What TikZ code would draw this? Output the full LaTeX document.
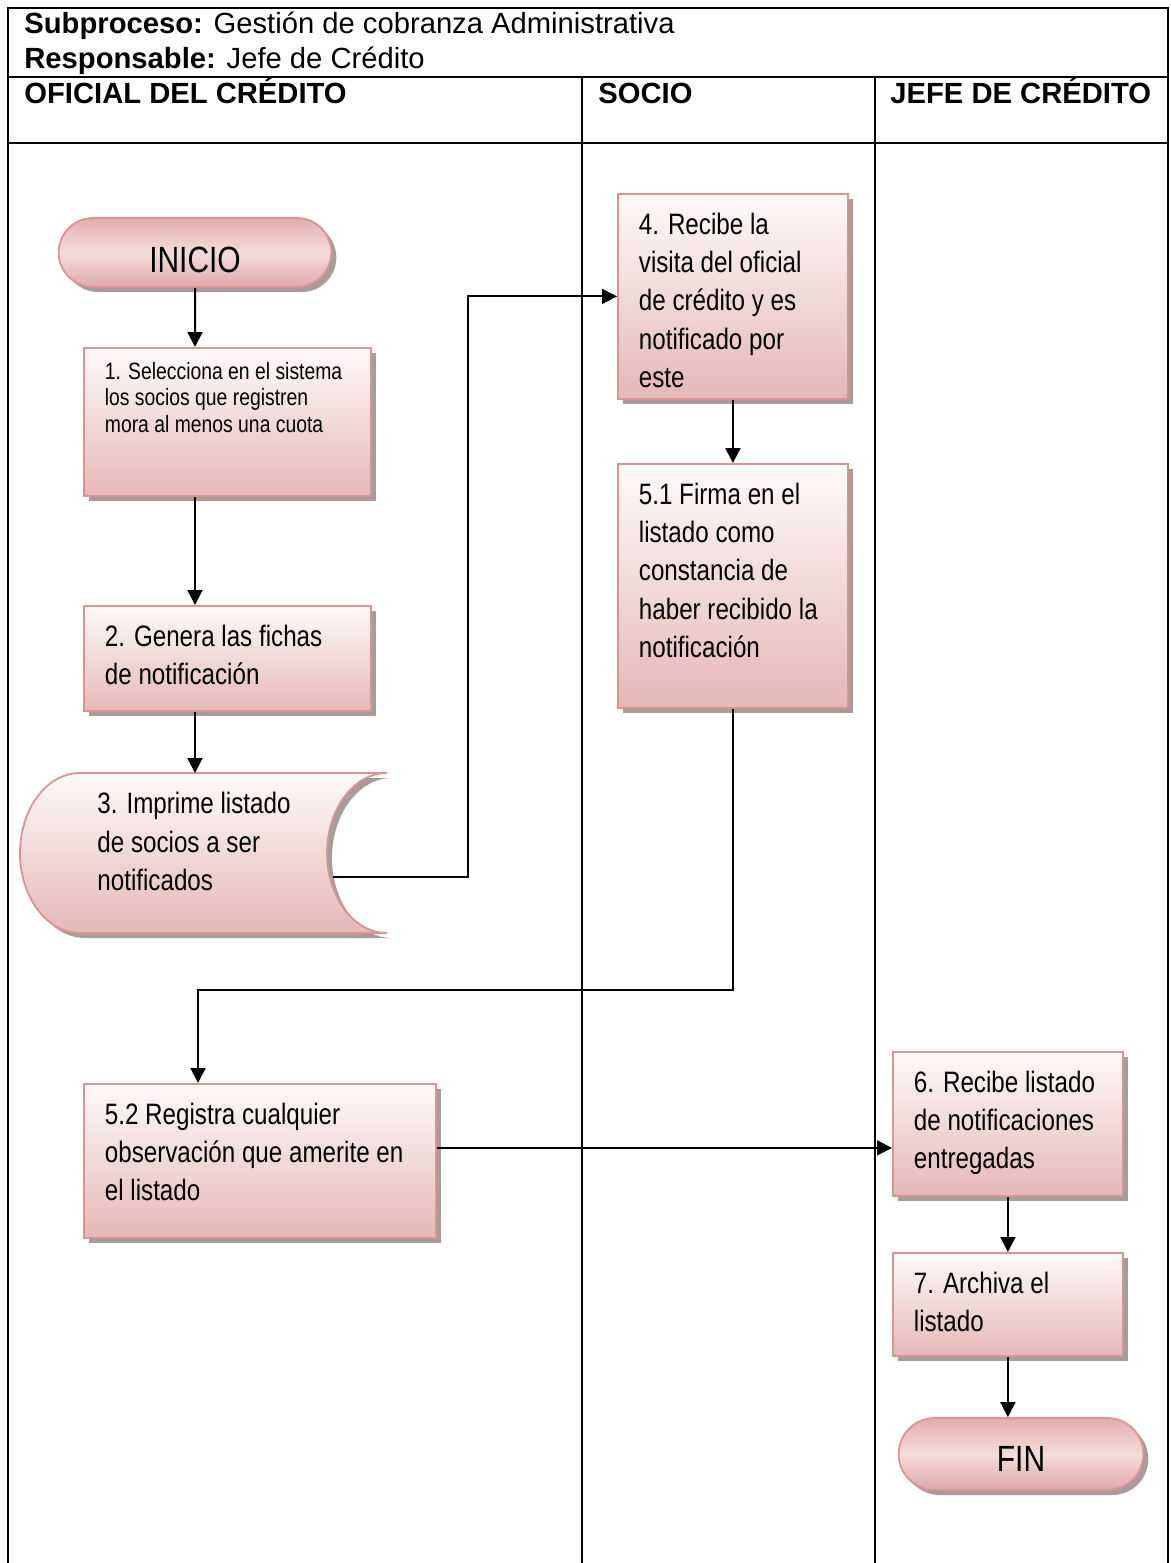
\documentclass[tikz,border=0pt]{standalone}
\usepackage{fontspec}
\setmainfont{Liberation Sans}
\newfontfamily\narrowfont[FakeStretch=0.82]{Liberation Sans}
\usetikzlibrary{arrows.meta,shapes.misc,shadows}

\definecolor{boxline}{HTML}{D99594}
\definecolor{boxtop}{HTML}{FEFAFA}
\definecolor{boxbot}{HTML}{E5B8B7}
\definecolor{termtop}{HTML}{E4ACAC}
\definecolor{termmid}{HTML}{F4DCDC}
\definecolor{termbot}{HTML}{E0A8A8}
\definecolor{shadowc}{HTML}{A99B9B}

\newcommand{\bigstep}{\narrowfont\fontsize{14.75}{19.15}\selectfont}
\newcommand{\smallstep}{\narrowfont\fontsize{11.8}{13.35}\selectfont}

\tikzset{
  lanefr/.style={line width=1.2pt},
  conn/.style={line width=1pt,-{Triangle[length=7.5pt,width=7.5pt]}},
  hdr/.style={anchor=base west,inner sep=0pt,font=\fontsize{14.6}{17}\selectfont},
  shade box/.style={draw=boxline,line width=0.9pt,top color=boxtop,bottom color=boxbot,
    drop shadow={shadow xshift=2.5pt,shadow yshift=-2.5pt,fill=shadowc,opacity=1}},
  stepbox/.style n args={2}{shade box,anchor=north west,inner xsep=10.5pt,inner ysep=9.5pt,
    font=\bigstep,
    execute at begin node={\begin{minipage}[t][#2][t]{#1}\raggedright},
    execute at end node={\end{minipage}}},
  terminal/.style={rounded rectangle,draw=boxline,line width=0.9pt,
    top color=termtop,bottom color=termbot,middle color=termmid,
    drop shadow={shadow xshift=2.5pt,shadow yshift=-2.5pt,fill=shadowc,opacity=1},
    font=\narrowfont\fontsize{18.25}{20}\selectfont,text depth=0pt}
}

\begin{document}
\begin{tikzpicture}[x=0.5pt,y=-0.5pt]
  \useasboundingbox (0,0) rectangle (1171,1563);

  % table frame and lanes
  \draw[lanefr] (8,1563) -- (8,8) -- (1168,8) -- (1168,1563);
  \draw[lanefr] (8,77) -- (1168,77);
  \draw[lanefr] (8,143) -- (1168,143);
  \draw[lanefr] (582,77) -- (582,1563);
  \draw[lanefr] (875,77) -- (875,1563);

  \node[hdr] (sub) at (24,33) {\textbf{Subproceso:} Gestión de cobranza Administrativa};
  \node[hdr] (resp) at (24,68) {\textbf{Responsable:} Jefe de Crédito};
  \node[hdr,font=\fontsize{14.6}{17}\selectfont\bfseries] (lofi) at (24,103) {OFICIAL DEL CRÉDITO};
  \node[hdr,font=\fontsize{14.6}{17}\selectfont\bfseries] (lsoc) at (598,103) {SOCIO};
  \node[hdr,font=\fontsize{14.6}{17}\selectfont\bfseries] (ljef) at (890,103) {JEFE DE CRÉDITO};

  % oficial del credito
  \node[terminal,minimum width=143pt,minimum height=34.5pt,text height=20pt] (ini) at (195,252.5) {INICIO};
  \node[stepbox={122.5pt}{60pt},inner ysep=7pt,font=\smallstep] (s1) at (83,347)
    {1. Selecciona en el sistema\\ los socios que registren\\ mora al menos una cuota};
  \node[stepbox={122.5pt}{33.5pt}] (s2) at (83,605) {2. Genera las fichas\\ de notificación};
  \path[shade box] (80,773) -- (387,773)
    arc[start angle=270,end angle=90,x radius=60,y radius=80] -- (80,933)
    arc[start angle=90,end angle=270,x radius=60,y radius=80] -- cycle;
  \node[anchor=north west,inner sep=0pt,align=left,font=\bigstep] (s3) at (97,792)
    {3. Imprime listado\\ de socios a ser\\ notificados};
  \coordinate (s3in) at (195,773);
  \coordinate (s3out) at (333,877);
  \coordinate (bend1) at (468,877);
  \node[stepbox={155pt}{58pt}] (s52) at (83,1083)
    {5.2 Registra cualquier\\ observación que amerite en\\ el listado};

  % socio
  \node[stepbox={94pt}{83.5pt}] (s4) at (617,193)
    {4. Recibe la\\ visita del oficial\\ de crédito y es\\ notificado por\\ este};
  \node[stepbox={94pt}{103pt}] (s51) at (617,463)
    {5.1 Firma en el\\ listado como\\ constancia de\\ haber recibido la\\ notificación};
  \coordinate (bend2) at (198,990);

  % jefe de credito
  \node[stepbox={94pt}{53pt}] (s6) at (892,1051)
    {6. Recibe listado\\ de notificaciones\\ entregadas};
  \node[stepbox={94pt}{32.5pt}] (s7) at (892,1252) {7. Archiva el\\ listado};
  \node[terminal,minimum width=129pt,minimum height=36pt,text height=17pt] (fin) at (1021,1454) {FIN};

  \draw[conn] (ini) -- (ini |- s1.north);
  \draw[conn] (s1.south -| ini) -- (s2.north -| ini);
  \draw[conn] (s2.south -| ini) -- (s3in);
  \draw[conn] (s3out) -- (bend1) |- (s4.west);
  \draw[conn] (s4) -- (s51);
  \draw[conn] (s51.south) |- (bend2) -- (bend2 |- s52.north);
  \draw[conn] ([yshift=6.5pt]s52.east) -- ([yshift=6.5pt]s52.east -| s6.west);
  \draw[conn] (s6) -- (s7);
  \draw[conn] (s7.south) -- (s7.south |- fin.north);
\end{tikzpicture}
\end{document}
